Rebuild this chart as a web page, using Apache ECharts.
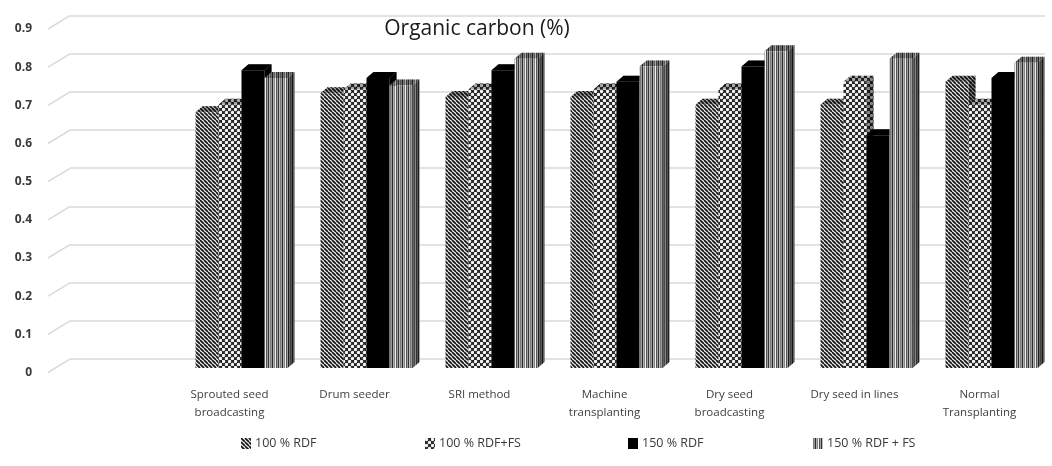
<!DOCTYPE html>
<html>
<head>
<meta charset="utf-8">
<script src="https://cdn.jsdelivr.net/npm/echarts@6/dist/echarts.min.js"></script>
<style>
  html, body { margin: 0; padding: 0; background: #fff; }
  #chart { width: 1052px; height: 466px; }
</style>
</head>
<body>
<div id="chart"></div>
<script>
// Establishment methods (first slot left empty, as on the axis)
const categories = ['', 'Sprouted seed\nbroadcasting', 'Drum seeder', 'SRI method',
  'Machine\ntransplanting', 'Dry seed\nbroadcasting', 'Dry seed in lines', 'Normal\nTransplanting'];

const seriesNames = ['100 % RDF', '100 % RDF+FS', '150 % RDF', '150 % RDF + FS'];

// Organic carbon (%) per method, one array per fertiliser treatment
const rdf100   = [0.67, 0.72, 0.71, 0.71, 0.69, 0.69, 0.75];
const rdf100fs = [0.69, 0.73, 0.73, 0.73, 0.73, 0.75, 0.69];
const rdf150   = [0.78, 0.76, 0.78, 0.75, 0.79, 0.61, 0.76];
const rdf150fs = [0.76, 0.74, 0.81, 0.79, 0.83, 0.81, 0.80];

const yTicks = [0, 0.1, 0.2, 0.3, 0.4, 0.5, 0.6, 0.7, 0.8, 0.9];

// ---- fill patterns ----
function canvasOf(w, h, draw) {
  const c = document.createElement('canvas');
  c.width = w; c.height = h;
  draw(c.getContext('2d'), w, h);
  return { image: c, repeat: 'repeat' };
}
const patDiagonal = canvasOf(4, 4, (ctx, w, h) => {
  ctx.fillStyle = '#efefef'; ctx.fillRect(0, 0, w, h);
  ctx.strokeStyle = '#151515'; ctx.lineWidth = 1.7;
  for (let i = -1; i <= 1; i++) {
    ctx.beginPath(); ctx.moveTo(i * w, 0); ctx.lineTo(i * w + w, h); ctx.stroke();
  }
});
const patDots = canvasOf(6, 6, (ctx, w, h) => {
  ctx.fillStyle = '#262626'; ctx.fillRect(0, 0, w, h);
  ctx.fillStyle = '#f4f4f4';
  [[1.5, 1.5], [4.5, 4.5]].forEach(([x, y]) => {
    ctx.beginPath(); ctx.arc(x, y, 1.7, 0, Math.PI * 2); ctx.fill();
  });
});
const patSolid = '#000000';
const patVertical = canvasOf(10, 2, (ctx, w, h) => {
  const cols = ['#7a7a7a', '#9a9a9a', '#2a2a2a', '#b0b0b0', '#858585', '#f0f0f0', '#555555', '#a0a0a0', '#333333', '#bdbdbd'];
  cols.forEach((col, i) => { ctx.fillStyle = col; ctx.fillRect(i, 0, 1, h); });
});
const fills = [patDiagonal, patDots, patSolid, patVertical];
const seriesValues = [rdf100, rdf100fs, rdf150, rdf150fs];
const legendLeft = [236, 420, 623, 808];

// ---- 3D column renderer ----
const DEPTH_X = 7, DEPTH_Y = 6;      // oblique depth of each column
const SHIFT_X = 12, SHIFT_Y = -4.5;  // columns sit slightly behind the label plane
function columnRenderer(seriesIdx) {
  return function (params, api) {
    const cat = api.value(0), val = api.value(1);
    const top = api.coord([cat, val]);
    const base = api.coord([cat, 0]);
    const band = api.size([1, 0])[0];
    const barW = band * 0.184;
    const x0 = top[0] + SHIFT_X - barW * 2 + seriesIdx * barW;
    const yt = top[1] + SHIFT_Y, yb = base[1] + SHIFT_Y;
    const fill = fills[seriesIdx];
    const topPts = [[x0, yt], [x0 + DEPTH_X, yt - DEPTH_Y], [x0 + barW + DEPTH_X, yt - DEPTH_Y], [x0 + barW, yt]];
    const sidePts = [[x0 + barW, yt], [x0 + barW + DEPTH_X, yt - DEPTH_Y], [x0 + barW + DEPTH_X, yb - DEPTH_Y], [x0 + barW, yb]];
    return {
      type: 'group',
      children: [
        { type: 'polygon', shape: { points: sidePts }, style: { fill: fill } },
        { type: 'polygon', shape: { points: sidePts }, style: { fill: 'rgba(0,0,0,0.45)' } },
        { type: 'polygon', shape: { points: topPts }, style: { fill: fill } },
        { type: 'polygon', shape: { points: topPts }, style: { fill: 'rgba(0,0,0,0.3)' } },
        { type: 'rect', shape: { x: x0, y: yt, width: barW, height: yb - yt }, style: { fill: fill } }
      ]
    };
  };
}

// diagonal connectors from the label plane to the back wall gridlines
function connectorRenderer(params, api) {
  const y = api.coord([0, api.value(1)])[1];
  const x = params.coordSys.x;
  return {
    type: 'line',
    shape: { x1: x + 6, y1: y, x2: x + 28, y2: y - 13.4 },
    style: { stroke: '#d9d9d9', lineWidth: 1.5 }
  };
}

const chart = echarts.init(document.getElementById('chart'), null, { renderer: 'canvas' });

const columnSeries = seriesNames.map((name, s) => ({
  name: name,
  type: 'custom',
  xAxisIndex: 0,
  yAxisIndex: 0,
  itemStyle: { color: fills[s] },
  renderItem: columnRenderer(s),
  data: seriesValues[s].map((v, i) => [i + 1, v]),
  z: 3
}));

// one legend entry per treatment, spaced along the bottom
const legends = seriesNames.map((name, s) => ({
  data: [name],
  left: legendLeft[s], top: 432,
  itemWidth: 10, itemHeight: 11, itemGap: 0,
  icon: 'rect', selectedMode: false,
  textStyle: { fontFamily: 'Open Sans', fontSize: 12.5, color: '#3a3a3a', padding: [0, 0, 0, -1] }
}));

chart.setOption({
  animation: false,
  backgroundColor: '#ffffff',
  title: {
    text: 'Organic carbon (%)',
    left: 472, top: 14, textAlign: 'center',
    textStyle: { fontFamily: 'Open Sans', fontSize: 21, fontWeight: 'normal', color: '#1a1a1a' }
  },
  legend: legends,
  grid: [
    { left: 42, right: 10, top: 29, bottom: 93.5 },   // label plane
    { left: 70, right: 7, top: 15.6, bottom: 107 }    // back wall
  ],
  xAxis: [
    {
      type: 'category', gridIndex: 0, data: categories,
      axisLine: { show: false }, axisTick: { show: false }, splitLine: { show: false },
      axisLabel: { interval: 0, margin: 13, fontFamily: 'Open Sans', fontSize: 11.5, lineHeight: 18, color: '#404040' }
    },
    { type: 'category', gridIndex: 1, data: categories, show: false }
  ],
  yAxis: [
    {
      type: 'value', gridIndex: 0, min: 0, max: 0.9, interval: 0.1,
      axisLine: { show: false }, axisTick: { show: false }, splitLine: { show: false },
      axisLabel: { margin: 10, fontFamily: 'Open Sans', fontSize: 12, fontWeight: 'bold', color: '#3a3a3a',
        formatter: v => String(Math.round(v * 10) / 10) }
    },
    {
      type: 'value', gridIndex: 1, min: 0, max: 0.9, interval: 0.1,
      axisLine: { show: false }, axisTick: { show: false }, axisLabel: { show: false },
      splitLine: { show: true, lineStyle: { color: '#d9d9d9', width: 1.5 } }
    }
  ],
  series: [
    {
      type: 'custom', name: 'wall', xAxisIndex: 0, yAxisIndex: 0,
      renderItem: connectorRenderer,
      data: yTicks.map(t => [0, t]),
      silent: true, z: 1
    }
  ].concat(columnSeries)
});
</script>
</body>
</html>
